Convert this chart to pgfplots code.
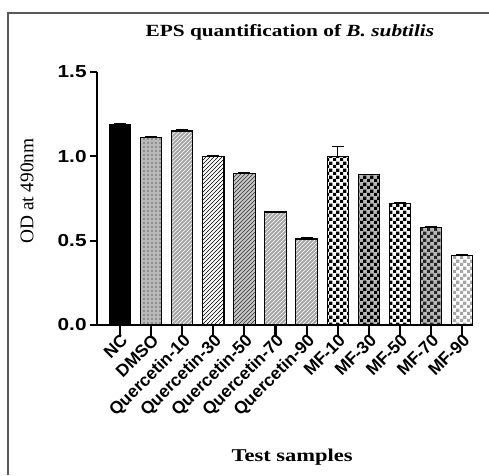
\documentclass[border=0pt]{standalone}
\usepackage{pgfplots}
\pgfplotsset{compat=1.18}
\usetikzlibrary{patterns}
\usepackage{fontspec}
\setmainfont{Liberation Serif}[FakeStretch=1.25]
\newfontfamily\serifplain{Liberation Serif}
\newfontfamily\arial{Liberation Sans}[FakeStretch=1.2]
\newfontfamily\arialplain{Liberation Sans}

% small checkerboard (squares of 2.5pt)
\pgfdeclarepatternformonly{smallcheck}{\pgfpointorigin}{\pgfqpoint{5pt}{5pt}}{\pgfqpoint{5pt}{5pt}}{%
  \pgfpathrectangle{\pgfpointorigin}{\pgfqpoint{2.5pt}{2.5pt}}%
  \pgfpathrectangle{\pgfqpoint{2.5pt}{2.5pt}}{\pgfqpoint{2.5pt}{2.5pt}}%
  \pgfusepath{fill}}

\begin{document}
\begin{tikzpicture}
\useasboundingbox (0,0) rectangle (366.75pt,356.25pt);
% grey frame (left and top only, cropped at the other sides)
\draw[black!65, line width=1.3pt] (6pt,0) -- (6pt,346.5pt) -- (366.75pt,346.5pt);

\begin{axis}[
    at={(72.75pt,112.5pt)}, anchor=south west,
    scale only axis, width=282pt, height=189.75pt,
    ymin=0, ymax=1.5, xmin=-0.74, xmax=11.35,
    axis x line*=bottom, axis y line*=left,
    axis line style={line width=1.6pt},
    ytick={0,0.5,1,1.5}, yticklabels={0.0,0.5,1.0,1.5},
    xtick={0,...,11},
    xticklabels={NC,DMSO,Quercetin-10,Quercetin-30,Quercetin-50,Quercetin-70,Quercetin-90,MF-10,MF-30,MF-50,MF-70,MF-90},
    tick align=outside,
    xtick style={line width=1.6pt, black, /pgfplots/major tick length=8pt},
    ytick style={line width=1.6pt, black, /pgfplots/major tick length=5pt},
    y tick label style={font=\arial\bfseries\fontsize{13}{13}\selectfont},
    x tick label style={font=\arialplain\bfseries\fontsize{13}{13}\selectfont,
        rotate=45, anchor=north east, inner sep=1pt},
    title={EPS quantification of \textit{B. subtilis}},
    title style={at={(0.513,1.125)}, anchor=center, font=\bfseries\fontsize{12.8}{12.8}\selectfont},
    ylabel={OD at 490nm},
    ylabel style={at={(axis description cs:-0.186,0.53)}, anchor=center, font=\serifplain\fontsize{14.5}{14.5}\selectfont},
    xlabel={Test samples},
    xlabel style={at={(axis description cs:0.519,-0.522)}, anchor=center, font=\bfseries\fontsize{13.5}{13.5}\selectfont},
    ybar, bar width=16pt,
    bb/.style={draw=black, line width=0.8pt, bar shift=0pt,
        error bars/y dir=plus, error bars/y explicit,
        error bars/error bar style={line width=0.9pt, black},
        error bars/error mark options={rotate=90, mark size=4.5pt, line width=0.9pt, black}},
]
\addplot[bb, fill=black] coordinates {(0,1.19) +- (0,0.006)};
\addplot[bb, fill=gray!55, postaction={pattern=dots, pattern color=black}] coordinates {(1,1.11) +- (0,0.006)};
\addplot[bb, fill=gray!70, postaction={pattern=north east lines, pattern color=white}] coordinates {(2,1.15) +- (0,0.006)};
\addplot[bb, fill=white, postaction={pattern=north east lines, pattern color=black}] coordinates {(3,1.00) +- (0,0.005)};
\addplot[bb, fill=gray!45, postaction={pattern=north east lines, pattern color=black!80}] coordinates {(4,0.90) +- (0,0.003)};
\addplot[bb, fill=gray!70, postaction={pattern=north east lines, pattern color=white}] coordinates {(5,0.67) +- (0,0.005)};
\addplot[bb, fill=gray!70, postaction={pattern=north east lines, pattern color=white}] coordinates {(6,0.51) +- (0,0.006)};
\addplot[bb, fill=white, postaction={pattern=smallcheck, pattern color=black}] coordinates {(7,1.00) +- (0,0.06)};
\addplot[bb, fill=gray!55, postaction={pattern=smallcheck, pattern color=black}] coordinates {(8,0.89) +- (0,0.003)};
\addplot[bb, fill=white, postaction={pattern=smallcheck, pattern color=black}] coordinates {(9,0.72) +- (0,0.005)};
\addplot[bb, fill=gray!55, postaction={pattern=smallcheck, pattern color=black!85}] coordinates {(10,0.58) +- (0,0.006)};
\addplot[bb, fill=white, postaction={pattern=smallcheck, pattern color=gray!70}] coordinates {(11,0.41) +- (0,0.005)};
\end{axis}
\end{tikzpicture}
\end{document}
